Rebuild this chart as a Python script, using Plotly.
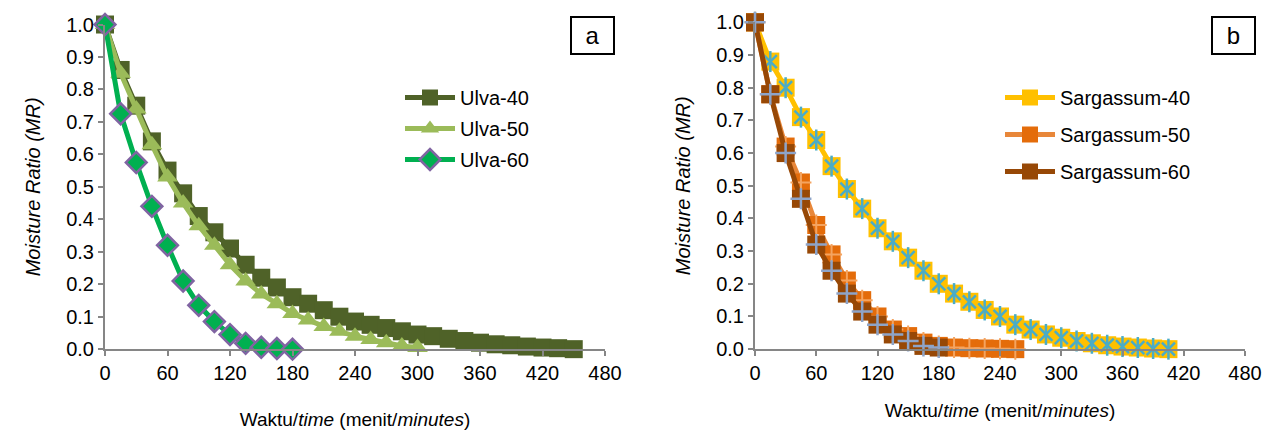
import plotly.graph_objects as go

# ---------------- data ----------------
time_u40 = [0, 15, 30, 45, 60, 75, 90, 105, 120, 135, 150, 165, 180, 195, 210, 225, 240,
            255, 270, 285, 300, 315, 330, 345, 360, 375, 390, 405, 420, 435, 450]
ulva_40 = [1.0, 0.86, 0.75, 0.64, 0.55, 0.48, 0.41, 0.36, 0.31, 0.26, 0.22, 0.19, 0.16, 0.14,
           0.12, 0.10, 0.085, 0.075, 0.065, 0.055, 0.045, 0.04, 0.032, 0.025, 0.02, 0.015,
           0.012, 0.008, 0.005, 0.003, 0.0]

time_u50 = [0, 15, 30, 45, 60, 75, 90, 105, 120, 135, 150, 165, 180, 195, 210, 225, 240,
            255, 270, 285, 300]
ulva_50 = [1.0, 0.85, 0.74, 0.63, 0.53, 0.45, 0.38, 0.32, 0.26, 0.21, 0.17, 0.14, 0.11, 0.09,
           0.07, 0.055, 0.04, 0.03, 0.02, 0.01, 0.005]

time_u60 = [0, 15, 30, 45, 60, 75, 90, 105, 120, 135, 150, 165, 180]
ulva_60 = [1.0, 0.725, 0.575, 0.44, 0.32, 0.21, 0.135, 0.085, 0.045, 0.018, 0.006, 0.002, 0.0]

time_s40 = [0, 15, 30, 45, 60, 75, 90, 105, 120, 135, 150, 165, 180, 195, 210, 225, 240,
            255, 270, 285, 300, 315, 330, 345, 360, 375, 390, 405]
sarg_40 = [1.0, 0.88, 0.80, 0.71, 0.64, 0.56, 0.49, 0.43, 0.37, 0.33, 0.28, 0.24, 0.20, 0.17,
           0.145, 0.12, 0.10, 0.075, 0.06, 0.045, 0.035, 0.025, 0.018, 0.012, 0.008, 0.005,
           0.002, 0.0]

time_s50 = [0, 15, 30, 45, 60, 75, 90, 105, 120, 135, 150, 165, 180, 195, 210, 225, 240, 255]
sarg_50 = [1.0, 0.78, 0.62, 0.51, 0.38, 0.29, 0.21, 0.15, 0.10, 0.06, 0.04, 0.02, 0.01, 0.005,
           0.003, 0.002, 0.001, 0.0]

time_s60 = [0, 15, 30, 45, 60, 75, 90, 105, 120, 135, 150, 165, 180]
sarg_60 = [1.0, 0.78, 0.60, 0.46, 0.32, 0.24, 0.17, 0.115, 0.075, 0.045, 0.025, 0.01, 0.005]

x_ticks = [0, 60, 120, 180, 240, 300, 360, 420, 480]
y_ticks = [0.0, 0.1, 0.2, 0.3, 0.4, 0.5, 0.6, 0.7, 0.8, 0.9, 1.0]

FONT = "Liberation Sans, Arial, sans-serif"
MS = 18

fig = go.Figure()

# ---------------- panel a ----------------
fig.add_trace(go.Scatter(x=time_u40, y=ulva_40, name="Ulva-40", mode="lines+markers",
                         line=dict(color="#4F6228", width=5),
                         marker=dict(symbol="square", size=MS, color="#4F6228"),
                         xaxis="x", yaxis="y", legend="legend", legendgroup="u40", cliponaxis=False))
fig.add_trace(go.Scatter(x=time_u50, y=ulva_50, name="Ulva-50", mode="lines+markers",
                         line=dict(color="#9BBB59", width=5),
                         marker=dict(symbol="triangle-up", size=MS, color="#9BBB59"),
                         xaxis="x", yaxis="y", legend="legend", legendgroup="u50", cliponaxis=False))
fig.add_trace(go.Scatter(x=time_u60, y=ulva_60, name="Ulva-60", mode="lines+markers",
                         line=dict(color="#00B050", width=5),
                         marker=dict(symbol="diamond", size=16, color="#00B050",
                                     line=dict(color="#8064A2", width=2.5)),
                         xaxis="x", yaxis="y", legend="legend", legendgroup="u60", cliponaxis=False))

# ---------------- panel b ----------------
fig.add_trace(go.Scatter(x=time_s40, y=sarg_40, name="Sargassum-40", mode="lines+markers",
                         line=dict(color="#FFC000", width=5),
                         marker=dict(symbol="square", size=MS, color="#FFC000"),
                         xaxis="x2", yaxis="y2", legend="legend2", legendgroup="s40", cliponaxis=False))
fig.add_trace(go.Scatter(x=time_s40, y=sarg_40, name="Sargassum-40", mode="markers",
                         marker=dict(symbol="x-thin-open", size=13, color="#4BACC6",
                                     line=dict(color="#4BACC6", width=2.5)),
                         xaxis="x2", yaxis="y2", showlegend=False, legendgroup="s40", cliponaxis=False))
fig.add_trace(go.Scatter(x=time_s40, y=sarg_40, name="Sargassum-40", mode="markers",
                         marker=dict(symbol="line-ns-open", size=15, color="#4BACC6",
                                     line=dict(color="#4BACC6", width=2.5)),
                         xaxis="x2", yaxis="y2", showlegend=False, legendgroup="s40", cliponaxis=False))
fig.add_trace(go.Scatter(x=time_s50, y=sarg_50, name="Sargassum-50", mode="lines+markers",
                         line=dict(color="#E8873A", width=5),
                         marker=dict(symbol="square", size=MS, color="#E46C0A"),
                         xaxis="x2", yaxis="y2", legend="legend2", legendgroup="s50", cliponaxis=False))
fig.add_trace(go.Scatter(x=time_s50, y=sarg_50, name="Sargassum-50", mode="markers",
                         marker=dict(symbol="cross-thin-open", size=15, color="#F4A460",
                                     line=dict(color="#F4A460", width=2)),
                         xaxis="x2", yaxis="y2", showlegend=False, legendgroup="s50", cliponaxis=False))
fig.add_trace(go.Scatter(x=time_s60, y=sarg_60, name="Sargassum-60", mode="lines+markers",
                         line=dict(color="#974806", width=5),
                         marker=dict(symbol="square", size=MS, color="#974806"),
                         xaxis="x2", yaxis="y2", legend="legend2", legendgroup="s60", cliponaxis=False))
fig.add_trace(go.Scatter(x=time_s60, y=sarg_60, name="Sargassum-60", mode="markers",
                         marker=dict(symbol="cross-thin-open", size=15, color="#8EA4C8",
                                     line=dict(color="#8EA4C8", width=2.5)),
                         xaxis="x2", yaxis="y2", showlegend=False, legendgroup="s60", cliponaxis=False))

axis_common = dict(showgrid=False, zeroline=False, showline=True, linecolor="#868686",
                   linewidth=2, ticks="outside", tickcolor="#868686", tickwidth=2, ticklen=5,
                   automargin=False,
                   tickfont=dict(family=FONT, size=20, color="#000000"))

xtitle = dict(text="Waktu/<i>time</i> (menit/<i>minutes</i>)",
              font=dict(family=FONT, size=19, color="#000000"))
ytitle = dict(text="<i>Moisture Ratio (MR)</i>",
              font=dict(family=FONT, size=20, color="#000000"))

fig.update_layout(
    width=1266, height=430,
    margin=dict(l=0, r=0, t=0, b=0, autoexpand=False),
    paper_bgcolor="white", plot_bgcolor="white",
    font=dict(family=FONT, color="#000000"),
    xaxis=dict(domain=[105 / 1266, 605 / 1266], range=[0, 480], tickvals=x_ticks,
               anchor="y", title=dict(xtitle, standoff=31), **axis_common),
    yaxis=dict(domain=[0.188, 0.943], range=[0, 1.0], tickvals=y_ticks, tickformat=".1f",
               anchor="x", title=dict(ytitle, standoff=20), **axis_common),
    xaxis2=dict(domain=[755 / 1266, 1245 / 1266], range=[0, 480], tickvals=x_ticks,
                anchor="y2", title=dict(xtitle, standoff=21), **axis_common),
    yaxis2=dict(domain=[0.188, 0.948], range=[0, 1.0], tickvals=y_ticks, tickformat=".1f",
                anchor="x2", title=dict(ytitle, standoff=20), **axis_common),
    legend=dict(x=400 / 1266, y=1 - 78 / 430, xanchor="left", yanchor="top",
                font=dict(family=FONT, size=20), bgcolor="rgba(0,0,0,0)",
                traceorder="grouped", tracegroupgap=2, itemwidth=50),
    legend2=dict(x=1000 / 1266, y=1 - 78 / 430, xanchor="left", yanchor="top",
                 font=dict(family=FONT, size=20), bgcolor="rgba(0,0,0,0)",
                 traceorder="grouped", tracegroupgap=8, itemwidth=50),
    annotations=[
        dict(text="a", x=592 / 1266, y=1 - 35 / 430, xref="paper", yref="paper",
             xanchor="center", yanchor="middle",
             showarrow=False, font=dict(family=FONT, size=24), bordercolor="#000000",
             borderwidth=2, borderpad=4, width=33, height=27),
        dict(text="b", x=1233 / 1266, y=1 - 35 / 430, xref="paper", yref="paper",
             xanchor="center", yanchor="middle",
             showarrow=False, font=dict(family=FONT, size=24), bordercolor="#000000",
             borderwidth=2, borderpad=4, width=33, height=27),
    ],
)

fig.write_html("out.html")
